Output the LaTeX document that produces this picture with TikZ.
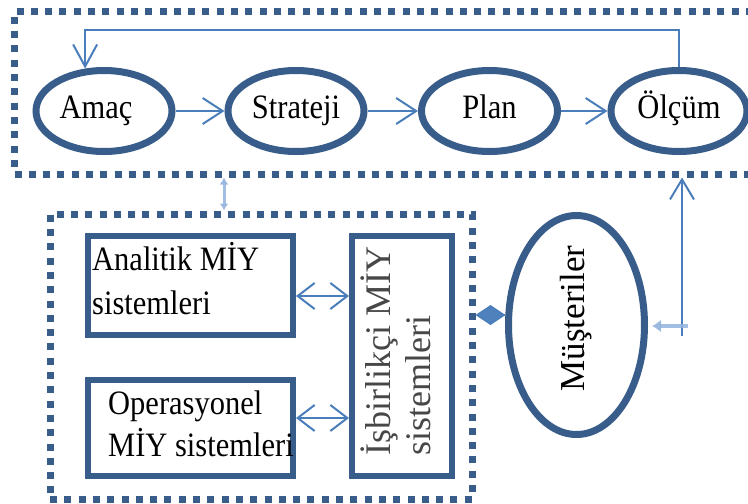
\documentclass[tikz,border=0pt]{standalone}
\usepackage{fontspec}
\setmainfont{Liberation Serif}
\usetikzlibrary{arrows.meta,shapes.geometric}
\definecolor{navy}{HTML}{385D8A}
\definecolor{link}{HTML}{4A7EBB}
\definecolor{linkfill}{HTML}{4F81BD}
\definecolor{haze}{HTML}{93B3DE}
% slightly tall glyphs for the horizontal labels
\newcommand{\talltext}[1]{\scalebox{1}[1.12]{#1}}
\begin{document}
\begin{tikzpicture}[x=1pt,y=-1pt,
  dotbox/.style={draw=navy, line width=7pt, dash pattern=on 7pt off 7.3pt,
    rectangle, inner sep=0pt},
  oval/.style={draw=navy, line width=7pt, ellipse, inner sep=0pt,
    minimum width=136pt, minimum height=81pt,
    font=\fontsize{30.5}{36}\selectfont, text height=21pt, text depth=6pt},
  sysbox/.style={draw=navy, line width=6pt, rectangle, inner sep=0pt},
  boxtext/.style={inner sep=0pt, font=\fontsize{30.5}{36}\selectfont},
  conn/.style={draw=link, line width=2pt},
  barb/.style={-{Straight Barb[length=20pt,width=26pt]}},
  dbarb/.style={{Straight Barb[length=17pt,width=26pt]}-{Straight Barb[length=17pt,width=26pt]}},
  hazy/.style={draw=haze, line width=3.5pt, opacity=0.85}
]
\useasboundingbox (0,0) rectangle (748,504);

% dotted frames
\node[dotbox, minimum width=745.5pt, minimum height=162.5pt] (cycle) at (387.25,92.75) {};
\node[dotbox, minimum width=422pt, minimum height=285pt] (mis) at (261,356.5) {};

% management cycle
\node[oval] (amac) at (104,111) {\talltext{Amaç}\hspace*{16pt}};
\node[oval] (strateji) at (296,111) {\talltext{Strateji}};
\node[oval] (plan) at (489.5,111) {\talltext{Plan}};
\node[oval] (olcum) at (679,111) {\talltext{Ölçüm}};

\draw[conn, barb] (amac.east) -- (strateji.west);
\draw[conn, barb] (strateji.east) -- (plan.west);
\draw[conn, barb] (plan.east) -- (olcum.west);

\coordinate (fb) at (0,30);
\draw[conn, -{Straight Barb[length=22pt,width=24pt]}]
  (olcum.north) -- (olcum.north |- fb) -| (amac.114);

% CRM systems
\node[sysbox, minimum width=205pt, minimum height=99pt] (analitik) at (190.5,285.5) {};
\node[sysbox, minimum width=205pt, minimum height=96pt] (operasyonel) at (190.5,428) {};
\node[sysbox, minimum width=100pt, minimum height=240pt, font=\fontsize{36}{40}\selectfont,
  text=black!72] (isbirlikci) at (402,356)
  {\rotatebox{90}{\makebox[0pt]{\hspace*{10pt}\begin{tabular}{@{}l@{}}İşbirlikçi MİY\\sistemleri\end{tabular}}}};

\node[boxtext, anchor=base west] (analitik1) at (92,270) {\talltext{Analitik MİY}};
\node[boxtext, anchor=base west] (analitik2) at (92,314) {\talltext{sistemleri}};
\node[boxtext, anchor=base west] (oper1) at (108,414) {\talltext{Operasyonel}};
\node[boxtext, anchor=base west] (oper2) at (108,456) {\talltext{MİY sistemleri}};

\draw[conn, dbarb] ([yshift=-10.5pt]analitik.east) -- ([yshift=-10.5pt]analitik.east -| isbirlikci.west);
\draw[conn, dbarb] ([yshift=10pt]operasyonel.east) -- ([yshift=10pt]operasyonel.east -| isbirlikci.west);

% customers
\node[draw=navy, line width=7pt, ellipse, inner sep=0pt, minimum width=136pt,
  minimum height=219pt, font=\fontsize{35}{40}\selectfont] (musteriler) at (576.5,325)
  {\rotatebox{90}{\makebox[0pt]{\hspace*{13pt}Müşteriler}}};

\coordinate (kite) at ([yshift=10pt]musteriler.west);
\draw[draw=link, line width=1.5pt, -{Diamond[length=30pt,width=20pt,fill=linkfill]}]
  (kite) -- (kite -| mis.east);

\coordinate (feed) at (682,336);
\draw[conn, -{Straight Barb[length=20pt,width=24pt]}] (feed) -- (feed |- cycle.south);

\coordinate (inflow) at (688,326);
\draw[hazy, -{Latex[length=9pt,width=13pt]}, shorten >=4pt] (inflow) -- (musteriler.east |- inflow);

\coordinate (tie) at (224,0);
\draw[hazy, line width=3pt, {Latex[length=7pt,width=9pt]}-{Latex[length=7pt,width=9pt]}]
  (tie |- cycle.south) -- (tie |- mis.north);
\end{tikzpicture}
\end{document}
